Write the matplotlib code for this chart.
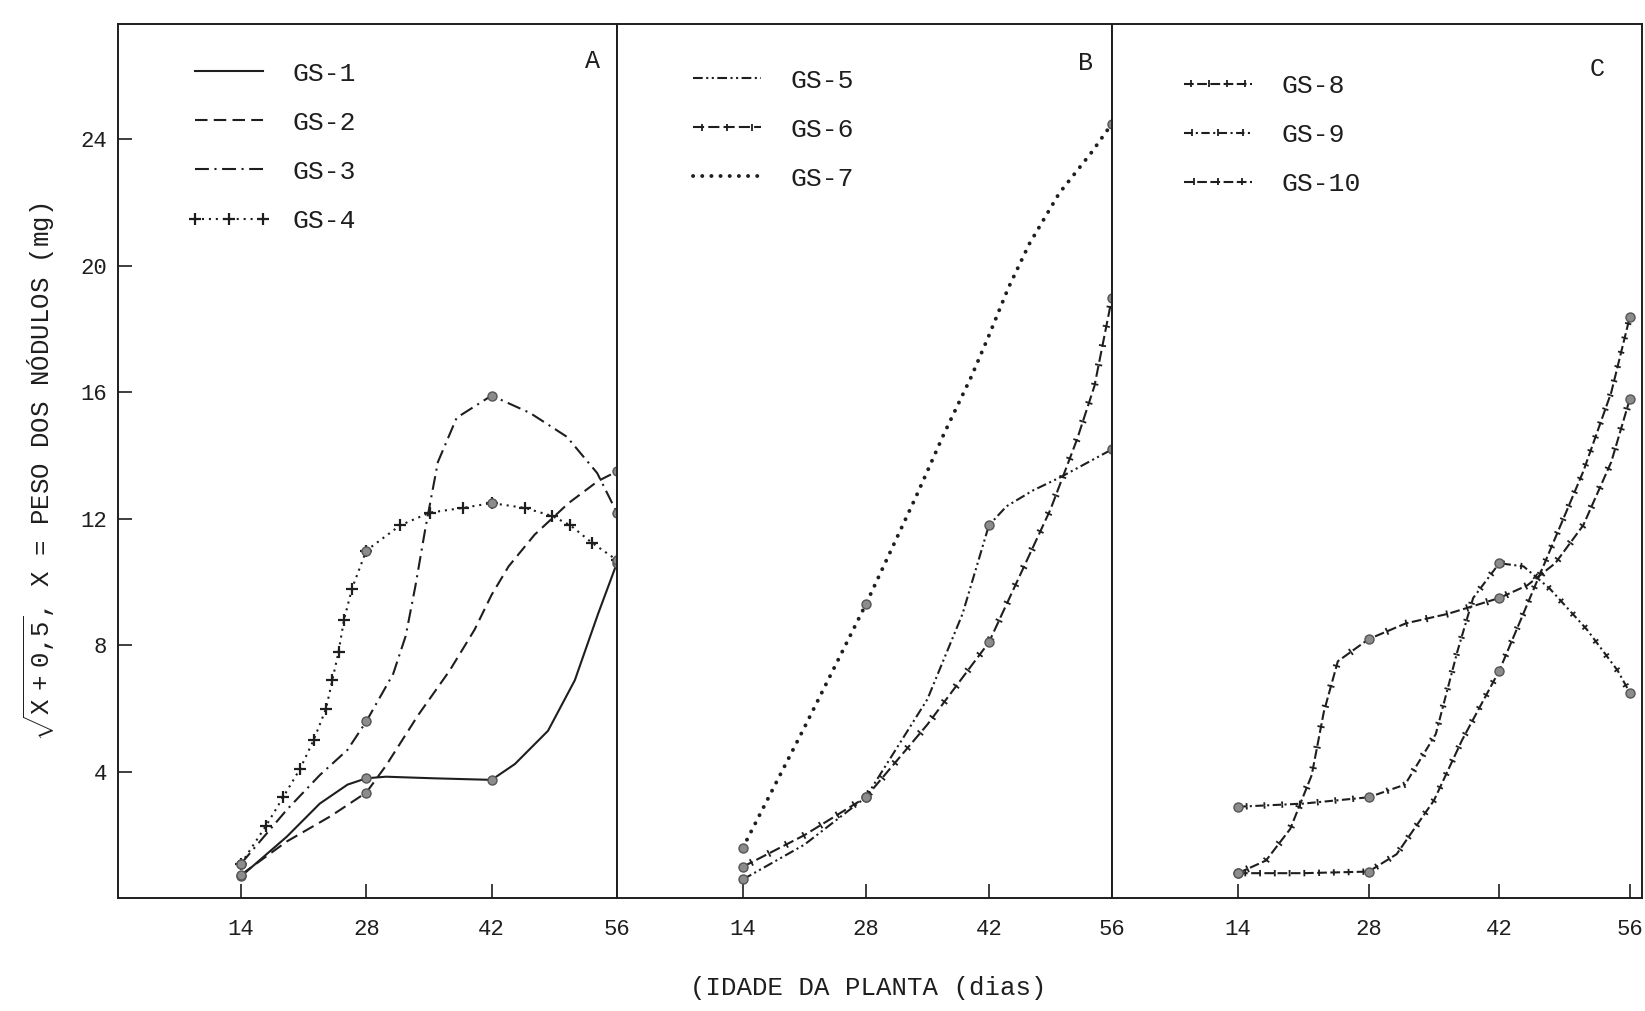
import matplotlib
matplotlib.use('Agg')
import matplotlib.pyplot as plt
from matplotlib import patheffects as pe

# days where nodules were weighed
DAYS = [14, 28, 42, 56]

# panel A
gs1_x = [14, 19.1, 22.8, 25.9, 28, 30.2, 35.5, 42, 44.6, 48.3, 51.3, 53.9, 56]
gs1_y = [0.7, 1.95, 3.0, 3.6, 3.8, 3.85, 3.8, 3.75, 4.25, 5.3, 6.9, 9.0, 10.6]
gs2_x = [14, 19.1, 24.0, 28, 30.2, 33.8, 37.3, 40.1, 42, 43.9, 46.8, 50.6, 53.9, 56]
gs2_y = [0.75, 1.8, 2.6, 3.35, 4.2, 5.8, 7.2, 8.5, 9.6, 10.5, 11.5, 12.5, 13.2, 13.5]
gs3_x = [14, 19.1, 22.8, 25.9, 28, 31.0, 32.4, 33.5, 34.6, 36.0, 38.1, 42, 46.3, 50.4, 53.8, 56]
gs3_y = [1.1, 2.8, 3.9, 4.7, 5.6, 7.1, 8.3, 9.9, 11.7, 13.8, 15.2, 15.9, 15.35, 14.6, 13.45, 12.2]
gs4_x = [14, 16.8, 18.7, 20.6, 22.1, 23.5, 24.2, 24.9, 25.5, 26.4, 28, 31.8, 35.1, 38.8, 42,
         45.7, 48.7, 50.8, 53.2, 56]
gs4_y = [1.1, 2.3, 3.2, 4.1, 5.0, 6.0, 6.9, 7.8, 8.8, 9.8, 11.0, 11.8, 12.2, 12.35, 12.5,
         12.35, 12.1, 11.8, 11.25, 10.7]

# panel B
gs5_x = [14, 21, 28, 35, 39, 42, 44, 47, 50, 53, 56]
gs5_y = [0.6, 1.7, 3.2, 6.3, 9.0, 11.8, 12.4, 12.9, 13.3, 13.75, 14.2]
gs6_x = [14, 21, 28, 35, 42, 46, 49, 52, 54, 56]
gs6_y = [1.0, 2.0, 3.2, 5.5, 8.1, 10.5, 12.3, 14.5, 16.2, 19.0]
gs7_x = [14, 21, 28, 33.7, 36.9, 40, 42, 44.2, 46.6, 50, 53.7, 56]
gs7_y = [1.6, 5.4, 9.3, 12.7, 14.7, 16.5, 17.8, 19.3, 20.7, 22.3, 23.6, 24.5]

# panel C
gs8_x = [14, 21, 28, 31, 35, 38, 42, 45, 48, 51, 54, 56]
gs8_y = [0.8, 0.8, 0.85, 1.4, 3.1, 5.0, 7.2, 9.3, 11.4, 13.5, 16.0, 18.4]
gs9_x = [14, 21, 28, 31.9, 35.2, 37.5, 39.2, 42, 44.6, 47.4, 51.4, 54.7, 56]
gs9_y = [2.9, 3.0, 3.2, 3.6, 5.2, 7.8, 9.5, 10.6, 10.5, 9.8, 8.5, 7.2, 6.5]
gs10_x = [14, 17, 19.6, 21.9, 23.2, 24.7, 28, 32, 36.5, 42, 45, 48, 51, 54, 56]
gs10_y = [0.8, 1.2, 2.2, 3.9, 5.9, 7.5, 8.2, 8.7, 9.0, 9.5, 9.9, 10.6, 11.8, 13.8, 15.8]

X_TICKS = [14, 28, 42, 56]
Y_TICKS = [4, 8, 12, 16, 20, 24]

plt.rcParams['font.family'] = ['Liberation Mono', 'DejaVu Sans']
plt.rcParams['lines.scale_dashes'] = False
plt.rcParams['mathtext.fontset'] = 'custom'
plt.rcParams['mathtext.rm'] = 'Liberation Mono'
plt.rcParams['mathtext.it'] = 'Liberation Mono'

INK = '#1e1e1e'
DOT = '#8c8c8c'

fig = plt.figure(figsize=(16.45, 10.11), dpi=100)
bottom, height = 0.1113, 0.865
axA = fig.add_axes([0.0720, bottom, 0.3030, height])
axB = fig.add_axes([0.3751, bottom, 0.3009, height])
axC = fig.add_axes([0.6760, bottom, 0.3222, height])


def bars(spacing, half=2.6):
    # short cross bars along the line, like the typed "-|-|-" patterns
    kw = dict(spacing=spacing, length=half / spacing, linewidth=1.3,
              dashes={'dash_offset': 0, 'dash_list': None})
    return [pe.Normal(), pe.TickedStroke(angle=90, **kw),
            pe.TickedStroke(angle=-90, **kw)]


def draw(ax, xs, ys, label, dots, lw=1.5, **style):
    ax.plot(xs, ys, color=INK, lw=lw, label=label, clip_on=False, **style)
    dy = [ys[xs.index(d)] for d in dots]
    ax.plot(dots, dy, ls='none', marker='o', ms=6.5, mfc=DOT, mec='#555555',
            mew=1.0, clip_on=False, zorder=5)


# panel A
draw(axA, gs1_x, gs1_y, 'GS-1', DAYS, ls='-')
draw(axA, gs2_x, gs2_y, 'GS-2', [14, 28, 56], ls=(0, (9, 4.5)))
draw(axA, gs3_x, gs3_y, 'GS-3', DAYS, ls=(0, (10, 4, 1.5, 4)))
draw(axA, gs4_x, gs4_y, 'GS-4', DAYS, ls=(0, (1.5, 3.5)), marker='+', ms=9, mew=1.6)

# panel B
draw(axB, gs5_x, gs5_y, 'GS-5', DAYS, ls=(0, (7, 2.5, 1.5, 2.5, 1.5, 2.5)))
draw(axB, gs6_x, gs6_y, 'GS-6', DAYS, ls=(0, (8, 3)), path_effects=bars(14))
draw(axB, gs7_x, gs7_y, 'GS-7', [14, 28, 56], lw=2.8, ls=(0, (0.1, 6.5)),
     dash_capstyle='round')

# panel C
draw(axC, gs8_x, gs8_y, 'GS-8', DAYS, ls=(0, (7, 2.5)), path_effects=bars(10.5, 2.3))
draw(axC, gs9_x, gs9_y, 'GS-9', DAYS, ls=(0, (6, 2.5, 1.5, 2.5)),
     path_effects=bars(12.5, 2.3))
draw(axC, gs10_x, gs10_y, 'GS-10', DAYS, ls=(0, (7, 2.5)), path_effects=bars(15))

panels = [(axA, (0.3, 56), 'A', (0.952, 0.958), (0.137, 0.957)),
          (axB, (-0.3, 56), 'B', (0.947, 0.955), (0.137, 0.949)),
          (axC, (0.5, 57.3), 'C', (0.915, 0.948), (0.12, 0.943))]

for ax, xlim, letter, lpos, legpos in panels:
    ax.set_xlim(*xlim)
    ax.set_ylim(0, 27.65)
    ax.set_xticks(X_TICKS)
    ax.set_yticks(Y_TICKS)
    ax.tick_params(axis='x', direction='in', length=10, width=1.2, pad=15,
                   labelsize=16, colors=INK)
    ax.tick_params(axis='y', direction='in', length=10, width=1.2, pad=8,
                   labelsize=16, colors=INK)
    for sp in ax.spines.values():
        sp.set_linewidth(1.4)
        sp.set_color(INK)
    ax.text(lpos[0], lpos[1], letter, transform=ax.transAxes, fontsize=18,
            ha='center', va='center', color=INK)
    ax.legend(loc='upper left', bbox_to_anchor=legpos, frameon=False, fontsize=19,
              handlelength=3.2, handletextpad=0.8, labelspacing=0.95, borderpad=0,
              borderaxespad=0, numpoints=3, labelcolor=INK)

for ax in (axB, axC):
    ax.tick_params(axis='y', left=False, labelleft=False)

fig.text(0.528, 0.023, '(IDADE DA PLANTA (dias)', ha='center', va='center',
         fontsize=18.5, color=INK)
fig.text(0.024, 0.533, r'$\sqrt{\mathrm{X\ +\ 0{,}5}}$, X = PESO DOS NÓDULOS (mg)',
         rotation=90, ha='center', va='center', fontsize=18.5, color=INK)

fig.savefig('out.png', dpi=100, facecolor='white')
